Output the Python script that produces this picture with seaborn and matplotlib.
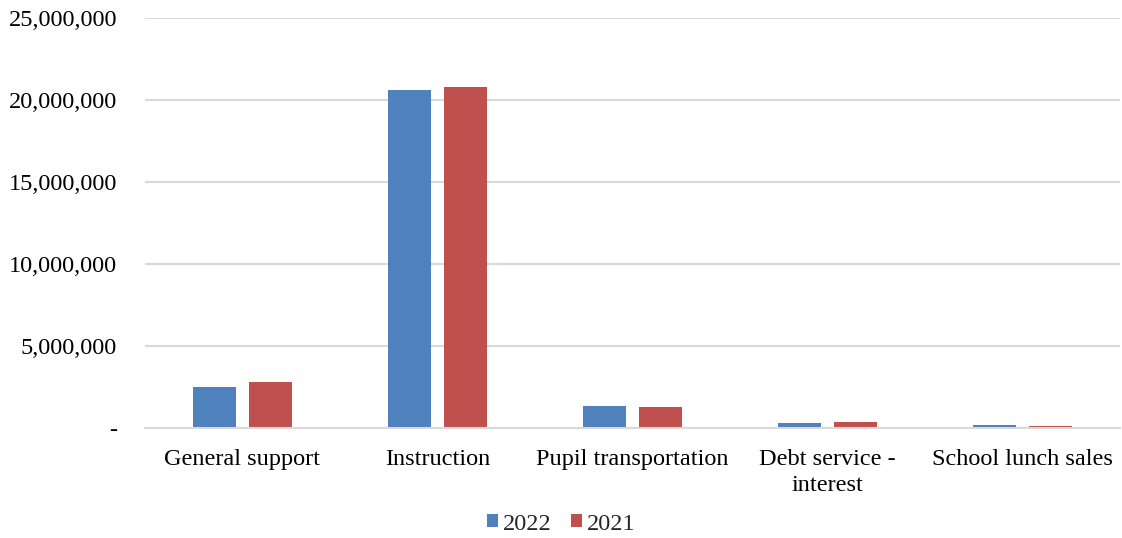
import matplotlib
matplotlib.use("Agg")
import matplotlib.pyplot as plt
import seaborn as sns
import pandas as pd
from matplotlib.ticker import FuncFormatter

categories = ["General support", "Instruction", "Pupil transportation",
              "Debt service -\ninterest", "School lunch sales"]
years = ["2022", "2021"]
values_2022 = [2530000, 20600000, 1340000, 320000, 180000]
values_2021 = [2800000, 20800000, 1280000, 370000, 120000]
colors = ["#4F81BD", "#C0504D"]

df = pd.DataFrame({
    "category": categories * 2,
    "year": [years[0]] * len(categories) + [years[1]] * len(categories),
    "value": values_2022 + values_2021,
})

sns.set_theme(style="white")
plt.rcParams["font.family"] = ["Liberation Serif", "DejaVu Serif"]

fig = plt.figure(figsize=(11.22, 5.38), dpi=100)
ax = fig.add_axes([145/1122, 1 - 428/538, (1120-145)/1122, (428-18)/538])

sns.barplot(data=df, x="category", y="value", hue="year", palette=colors,
            width=0.574, gap=0.232, ax=ax, saturation=1, legend=True,
            edgecolor="none", linewidth=0, errorbar=None)

ax.set_ylim(0, 25000000)
ax.set_yticks(range(0, 25000001, 5000000))
ax.yaxis.set_major_formatter(FuncFormatter(lambda v, p: "-" if v == 0 else f"{int(v):,}"))
ax.grid(axis="y", color="#d9d9d9", linewidth=1.5)
ax.set_axisbelow(True)
for s in ["top", "right", "left"]:
    ax.spines[s].set_visible(False)
ax.spines["bottom"].set_color("#d9d9d9")
ax.spines["bottom"].set_linewidth(1.5)
ax.set_xlim(-0.5, len(categories) - 0.5)
ax.tick_params(axis="both", length=0, labelsize=17.5, colors="black")
ax.tick_params(axis="y", pad=20)
ax.tick_params(axis="x", pad=15)
for lbl in ax.get_xticklabels():
    lbl.set_linespacing(1.3)
ax.set_xlabel("")
ax.set_ylabel("")

handles, labels = ax.get_legend_handles_labels()
ax.get_legend().remove()
fig.legend(handles, labels, loc="center", bbox_to_anchor=(0.5, 1 - 524/538),
           ncol=2, frameon=False, fontsize=17.5, handlelength=0.45, handleheight=0.45,
           handletextpad=0.2, columnspacing=0.8)

fig.savefig("out.png", dpi=100)
